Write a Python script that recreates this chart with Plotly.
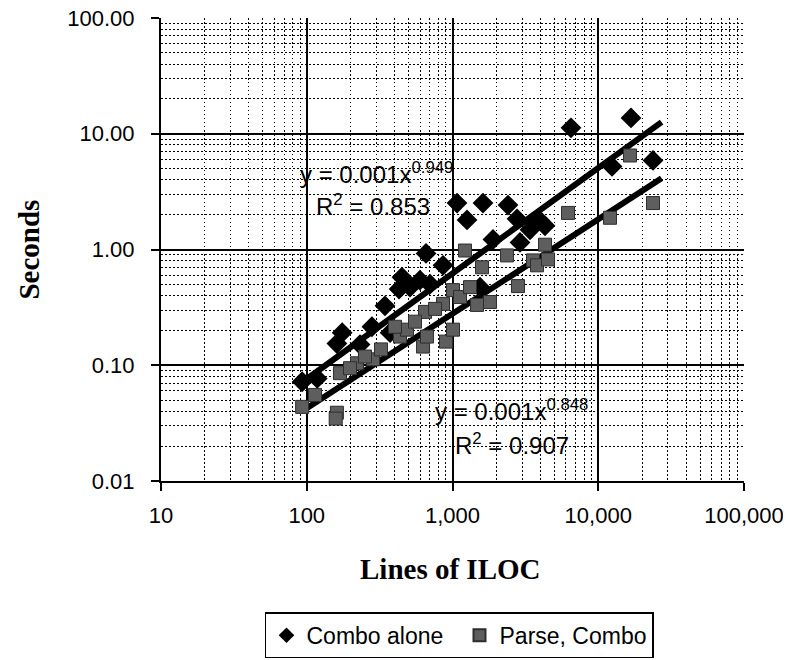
import plotly.graph_objects as go

# ---- data (Lines of ILOC vs Seconds) ----
combo_x = [93, 118, 161, 175, 232, 280, 344, 373, 430, 450, 511, 598, 701, 658, 861,
           1074, 1258, 1619, 1896, 2403, 2770, 2905, 3985, 1544, 6501, 12430, 16780,
           23750, 4312, 3402]
combo_y = [0.072, 0.077, 0.154, 0.191, 0.151, 0.215, 0.326, 0.191, 0.455, 0.576, 0.473,
           0.543, 0.502, 0.924, 0.730, 2.52, 1.80, 2.52, 1.22, 2.42, 1.84, 1.15, 1.77,
           0.473, 11.25, 5.22, 13.7, 5.88, 1.60, 1.48]

parse_x = [93, 114, 161, 158, 169, 221, 285, 323, 436, 487, 628, 648, 668, 861, 902,
           1008, 1008, 1218, 1473, 1594, 1808, 2365, 2814, 3567, 3798, 4312, 4520,
           6200, 12040, 16510, 23750, 251, 198, 403, 553, 759, 1126, 1319]
parse_y = [0.0437, 0.0554, 0.0389, 0.0346, 0.0854, 0.104, 0.1125, 0.137, 0.177, 0.203,
           0.145, 0.289, 0.177, 0.339, 0.160, 0.446, 0.203, 0.98, 0.332, 0.702, 0.352,
           0.889, 0.483, 0.805, 0.730, 1.10, 0.821, 2.07, 1.88, 6.49, 2.52, 0.119,
           0.0943, 0.215, 0.238, 0.307, 0.389, 0.473]

# power trendline end points as drawn in the reference
trend_combo_x = [92, 27200]
trend_combo_y = [0.0706, 12.6]
trend_parse_x = [94, 27200]
trend_parse_y = [0.0405, 4.12]

x_tickvals = [10, 100, 1000, 10000, 100000]
x_ticktext = ["10", "100", "1,000", "10,000", "100,000"]
y_tickvals = [0.01, 0.1, 1, 10, 100]
y_ticktext = ["0.01", "0.10", "1.00", "10.00", "100.00"]

eq_combo = ["y = 0.001x<sup>0.949</sup>", "R<sup>2</sup> = 0.853"]
eq_parse = ["y = 0.001x<sup>0.848</sup>", "R<sup>2</sup> = 0.907"]

x_title = "<b>Lines of ILOC</b>"
y_title = "<b>Seconds</b>"

SANS = "Liberation Sans, Arial, sans-serif"
SERIF = "Liberation Serif, Times New Roman, serif"

fig = go.Figure()

fig.add_trace(go.Scatter(
    x=trend_combo_x, y=trend_combo_y, mode="lines",
    line=dict(color="black", width=6), showlegend=False, hoverinfo="skip"))
fig.add_trace(go.Scatter(
    x=trend_parse_x, y=trend_parse_y, mode="lines",
    line=dict(color="black", width=6), showlegend=False, hoverinfo="skip"))

fig.add_trace(go.Scatter(
    x=combo_x, y=combo_y, mode="markers", name="Combo alone",
    marker=dict(symbol="diamond", size=16, color="black",
                line=dict(color="black", width=0))))
fig.add_trace(go.Scatter(
    x=parse_x, y=parse_y, mode="markers", name="Parse, Combo",
    marker=dict(symbol="square", size=13, color="#5e5e5e",
                line=dict(color="#2e2e2e", width=1))))

minor_vals = []
for d in [10, 100, 1000, 10000]:
    for k in range(2, 10):
        minor_vals.append(k * d)
minor_y = []
for d in [0.01, 0.1, 1, 10]:
    for k in range(2, 10):
        minor_y.append(k * d)

common = dict(
    type="log", tickmode="array",
    ticks="outside", ticklen=8, tickwidth=2, tickcolor="black",
    showline=True, linecolor="black", linewidth=2,
    showgrid=True, gridcolor="black", gridwidth=1.5,
    tickfont=dict(family=SANS, size=22, color="black"),
    zeroline=False, automargin=False, ticklabeloverflow="allow",
)

fig.update_xaxes(
    range=[1, 5], tickvals=x_tickvals, ticktext=x_ticktext, ticklabelstandoff=6,
    minor=dict(tickmode="array", tickvals=minor_vals, showgrid=True,
               gridcolor="black", griddash="1.5px,2.5px", gridwidth=1.2, ticks=""),
    **common,
)
fig.update_yaxes(
    range=[-2, 2], tickvals=y_tickvals, ticktext=y_ticktext, ticklabelstandoff=12,
    minor=dict(tickmode="array", tickvals=minor_y, showgrid=True,
               gridcolor="black", griddash="1.5px,2.5px", gridwidth=1.2, ticks=""),
    **common,
)

# axis titles
fig.add_annotation(xref="paper", yref="paper", x=0.495, y=-0.19, text=x_title,
                   showarrow=False, xanchor="center", yanchor="middle",
                   font=dict(family=SERIF, size=29, color="black"))
fig.add_annotation(xref="paper", yref="paper", x=-0.228, y=0.5, text=y_title,
                   showarrow=False, xanchor="center", yanchor="middle", textangle=-90,
                   font=dict(family=SERIF, size=29, color="black"))

ann_font = dict(family=SANS, size=24, color="black")
fig.add_annotation(xref="paper", yref="paper", x=0.235, y=0.6645, text=eq_combo[0],
                   showarrow=False, xanchor="left", yanchor="middle", font=ann_font)
fig.add_annotation(xref="paper", yref="paper", x=0.262, y=0.596, text=eq_combo[1],
                   showarrow=False, xanchor="left", yanchor="middle", font=ann_font)
fig.add_annotation(xref="paper", yref="paper", x=0.466, y=0.153, text=eq_parse[0],
                   showarrow=False, xanchor="left", yanchor="middle", font=ann_font)
fig.add_annotation(xref="paper", yref="paper", x=0.500, y=0.080, text=eq_parse[1],
                   showarrow=False, xanchor="left", yanchor="middle", font=ann_font)

# the page body adds an 8px offset, so margins are shifted to compensate
fig.update_layout(
    width=791, height=660,
    margin=dict(l=153, r=55, t=10, b=182),
    paper_bgcolor="white", plot_bgcolor="white",
    showlegend=True,
    legend=dict(orientation="h", x=0.512, xanchor="center", y=-0.383, yanchor="bottom",
                bordercolor="black", borderwidth=1.5, bgcolor="white",
                font=dict(family=SANS, size=23, color="black"),
                itemsizing="constant", itemwidth=30, tracegroupgap=0,
                entrywidth=148, entrywidthmode="pixels"),
)

fig.write_html("out.html")
